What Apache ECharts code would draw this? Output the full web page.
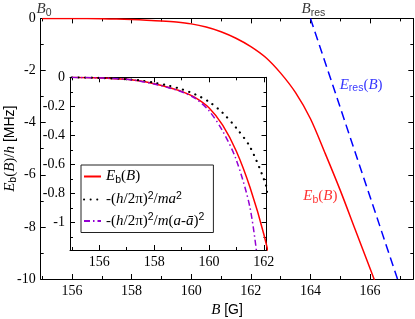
<!DOCTYPE html>
<html><head><meta charset="utf-8">
<script src="https://cdn.jsdelivr.net/npm/echarts@6/dist/echarts.min.js"></script>
<style>html,body{margin:0;padding:0;background:#fff}#c{width:415px;height:319px}</style>
</head><body><div id="c"></div>
<script>
// ---- data ----
const B_EB = [155, 156, 157, 157.5, 158, 158.5, 159, 159.5, 160, 160.5, 161, 161.5, 162, 162.5, 163, 163.5, 164, 164.5, 165, 165.5, 166, 166.3];
const E_EB = [0, -0.004, -0.014, -0.026, -0.045, -0.068, -0.097, -0.14, -0.21, -0.33, -0.51, -0.76, -1.08, -1.5, -2.1, -2.85, -3.85, -5.2, -6.6, -8.1, -9.6, -10.5];
const B_RES = [164.0, 166.92];
const E_RES = [0, -10];
const B_MA = [155, 156, 157, 157.5, 158, 158.5, 159, 159.5, 160, 160.5, 161, 161.5, 162, 162.3];
const E_MA = [0, -0.004, -0.013, -0.022, -0.037, -0.056, -0.082, -0.118, -0.168, -0.245, -0.35, -0.48, -0.70, -0.88];
const B_MAA = [155, 156, 157, 157.5, 158, 158.5, 159, 159.5, 160, 160.5, 161, 161.5, 161.8];
const E_MAA = [0, -0.004, -0.014, -0.027, -0.046, -0.07, -0.1, -0.145, -0.23, -0.37, -0.57, -0.9, -1.3];

const MAIN_X_MAJOR = [156, 158, 160, 162, 164, 166];
const MAIN_X_MINOR = [155, 157, 159, 161, 163, 165, 167];
const MAIN_Y_MAJOR = [0, -2, -4, -6, -8, -10];
const MAIN_Y_MINOR = [-1, -3, -5, -7, -9];
const INS_X_MAJOR = [156, 158, 160, 162];
const INS_X_MINOR = [155, 157, 159, 161];
const INS_Y_MAJOR = [0, -0.2, -0.4, -0.6, -0.8, -1];
const INS_Y_MINOR = [-0.1, -0.3, -0.5, -0.7, -0.9, -1.1];

// annotation anchors [B, E]
const ANN_B0 = [155.06, 0];
const ANN_BRES = [164.1, 0];
const ANN_ERES = [164.98, -2.55];
const ANN_EB = [163.76, -6.82];

const zip = (a, b) => a.map((v, i) => [v, b[i]]);

const SERIF = 'Liberation Serif', SANS = 'Liberation Sans';
const RICH = {
  rm: {fontFamily: SERIF, fontSize: 15, lineHeight: 18},
  it: {fontFamily: SERIF, fontStyle: 'italic', fontSize: 15, lineHeight: 18},
  sub: {fontFamily: SANS, fontSize: 10.5, lineHeight: 10, verticalAlign: 'bottom'},
  sup: {fontFamily: SANS, fontSize: 10.5, lineHeight: 10, verticalAlign: 'top'},
  sans: {fontFamily: SANS, fontSize: 14, lineHeight: 18}
};

function axes(kind, gi, min, max, major, minor, labels, nameCfg) {
  const p1 = kind === 'x' ? 'bottom' : 'left';
  const p2 = kind === 'x' ? 'top' : 'right';
  const base = {type: 'value', gridIndex: gi, min: min, max: max, splitLine: {show: false},
    axisLine: {show: true, onZero: false, lineStyle: {color: '#000', width: 1}}};
  const tick = (vals, len) => ({show: true, inside: true, length: len, customValues: vals, lineStyle: {color: '#000', width: 1}});
  const a1 = Object.assign({}, base, {position: p1, axisTick: tick(major, 5),
    axisLabel: {show: true, customValues: labels, color: '#000', fontFamily: SERIF, fontSize: 14, margin: 5}}, nameCfg || {});
  const a2 = Object.assign({}, base, {position: p1, axisLine: {show: false, onZero: false}, axisTick: tick(minor, 3), axisLabel: {show: false}});
  const a3 = Object.assign({}, base, {position: p2, axisTick: tick(major, 5), axisLabel: {show: false}});
  const a4 = Object.assign({}, base, {position: p2, axisLine: {show: false, onZero: false}, axisTick: tick(minor, 3), axisLabel: {show: false}});
  return [a1, a2, a3, a4];
}

const xAxes = [].concat(
  axes('x', 0, 154.95, 167.45, MAIN_X_MAJOR, MAIN_X_MINOR, MAIN_X_MAJOR, {
    name: '{it|B}{sans| [G]}', nameLocation: 'middle', nameGap: 22, nameMoveOverlap: false,
    nameTextStyle: {color: '#000', rich: RICH}}),
  axes('x', 1, 154.93, 162.1, INS_X_MAJOR, INS_X_MINOR, INS_X_MAJOR)
);
const yAxes = [].concat(
  axes('y', 0, -10, 0, MAIN_Y_MAJOR, MAIN_Y_MINOR, MAIN_Y_MAJOR, {
    name: '{it|E}{sub|b}{rm|(}{it|B}{rm|)/}{it|h}{sans| [MHz]}', nameLocation: 'middle', nameRotate: 90, nameGap: 22,
    nameMoveOverlap: false,
    nameTextStyle: {color: '#000', rich: RICH}}),
  axes('y', 1, -1.19, 0, INS_Y_MAJOR, INS_Y_MINOR, INS_Y_MAJOR)
);

const LEG = {
  eb: '{it|E}{sub|b}{rm|(}{it|B}{rm|)}',
  ma: '{rm|-(}{it|h}{rm|/2π)}{sup|2}{rm|/}{it|ma}{sup|2}',
  maa: '{rm|-(}{it|h}{rm|/2π)}{sup|2}{rm|/}{it|m}{rm|(}{it|a}{rm|-}{it|ā}{rm|)}{sup|2}'
};

const annLabel = (fmt, color, pos) => ({show: true, formatter: fmt, color: color, position: pos, distance: 0, rich: RICH});

const option = {
  animation: false,
  backgroundColor: '#fff',
  grid: [
    {left: 40.7, top: 18.4, right: 1.7, bottom: 40, containLabel: false, outerBoundsMode: 'none'},
    {left: 70, top: 77.3, width: 196.5, height: 172.7, show: true, backgroundColor: '#fff', borderWidth: 0,
      containLabel: false, outerBoundsMode: 'none'}
  ],
  xAxis: xAxes,
  yAxis: yAxes,
  legend: {
    show: true, orient: 'vertical', left: 81, top: 165, padding: [4, 9, 4, 2], itemGap: 5,
    itemWidth: 17, itemHeight: 10, borderColor: '#222', borderWidth: 1, backgroundColor: '#fff',
    data: ['eb', 'ma', 'maa'], selectedMode: false,
    itemStyle: {opacity: 0},
    formatter: n => LEG[n],
    textStyle: {color: '#000', rich: RICH}
  },
  series: [
    {type: 'line', name: 'main_eb', xAxisIndex: 0, yAxisIndex: 0, data: zip(B_EB, E_EB), showSymbol: false, symbol: 'none',
      smooth: 0.3, lineStyle: {color: '#ff0000', width: 1.5}},
    {type: 'line', name: 'main_res', xAxisIndex: 0, yAxisIndex: 0, data: zip(B_RES, E_RES), showSymbol: false, symbol: 'none',
      lineStyle: {color: '#0000ff', width: 1.5, type: [9, 5]}},
    {type: 'scatter', xAxisIndex: 0, yAxisIndex: 0, symbolSize: 0, clip: false, silent: true,
      data: [
        {value: ANN_B0, label: annLabel('{it|B}{sub|0}', '#000', 'top')},
        {value: ANN_BRES, label: annLabel('{it|B}{sub|res}', '#000', 'top')},
        {value: ANN_ERES, label: annLabel('{it|E}{sub|res}{rm|(}{it|B}{rm|)}', '#0000ff', 'right')},
        {value: ANN_EB, label: annLabel('{it|E}{sub|b}{rm|(}{it|B}{rm|)}', '#ff0000', 'right')}
      ]},
    {type: 'line', name: 'eb', xAxisIndex: 4, yAxisIndex: 4, data: zip(B_EB, E_EB), showSymbol: false, symbol: 'none',
      smooth: 0.3, lineStyle: {color: '#ff0000', width: 1.5}, itemStyle: {color: '#ff0000'}},
    {type: 'line', name: 'ma', xAxisIndex: 4, yAxisIndex: 4, data: zip(B_MA, E_MA), showSymbol: false, symbol: 'none',
      smooth: 0.3, lineStyle: {color: '#000', width: 2.2, type: [0.1, 6.5], cap: 'round'}, itemStyle: {color: '#000'}},
    {type: 'line', name: 'maa', xAxisIndex: 4, yAxisIndex: 4, data: zip(B_MAA, E_MAA), showSymbol: false, symbol: 'none',
      smooth: 0.3, lineStyle: {color: '#9400d3', width: 1.5, type: [6, 3, 1.5, 3]}, itemStyle: {color: '#9400d3'}}
  ]
};
const chart = echarts.init(document.getElementById('c'), null, {renderer: 'canvas'});
chart.setOption(option);
</script></body></html>
